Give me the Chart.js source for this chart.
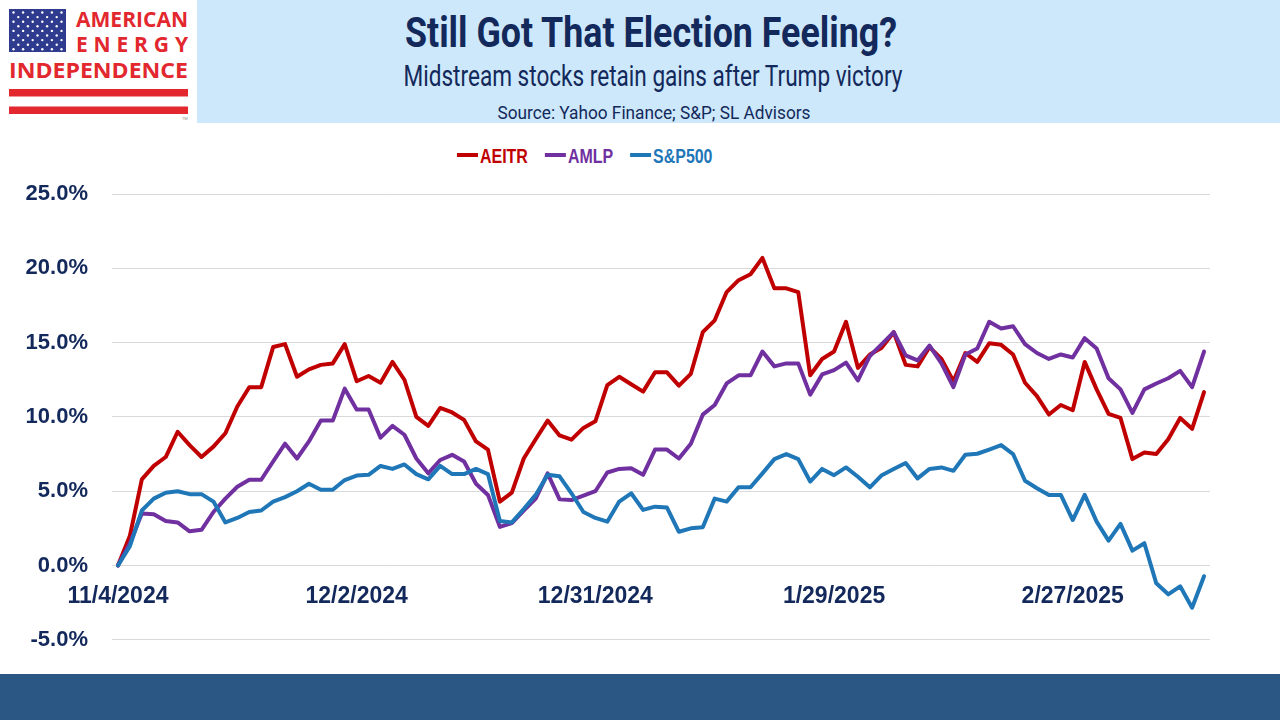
<!DOCTYPE html>
<html><head><meta charset="utf-8">
<script src="https://cdn.jsdelivr.net/npm/chart.js@4.4.1/dist/chart.umd.min.js"></script>
<style>
html,body{margin:0;padding:0;width:1280px;height:720px;overflow:hidden;background:#fff;}
#hdrbox{position:absolute;left:197px;top:0;width:1083px;height:123px;background:#CCE8FA;}
#hdr{position:absolute;left:0;top:0;}
#legend{position:absolute;left:0;top:135px;}
#chartWrap{position:absolute;left:0;top:125px;width:1280px;height:552px;}
#footer{position:absolute;left:0;top:674px;width:1280px;height:46px;background:#2A5783;}
</style></head>
<body>
<div id="hdrbox"></div>
<svg id="hdr" width="1280" height="125">
  <rect x="9" y="9" width="57" height="43" fill="#2E3B8E"/>
  <g id="stars" fill="#ffffff"></g>
  <text x="76" y="27" textLength="112" lengthAdjust="spacingAndGlyphs" font-family="Open Sans" font-weight="700" font-size="21" fill="#E2282E">AMERICAN</text>
  <text x="76" y="52" textLength="112" lengthAdjust="spacing" font-family="Open Sans" font-weight="700" font-size="21" fill="#E2282E">ENERGY</text>
  <text x="9" y="78" textLength="179" lengthAdjust="spacingAndGlyphs" font-family="Open Sans" font-weight="700" font-size="21" fill="#E2282E">INDEPENDENCE</text>
  <rect x="9" y="89" width="179" height="7.5" fill="#E2282E"/>
  <rect x="9" y="106.5" width="179" height="7.5" fill="#E2282E"/>
  <text x="182" y="120" font-family="Open Sans" font-size="4" fill="#888">TM</text>
  <text x="651" y="47" text-anchor="middle" textLength="492" lengthAdjust="spacingAndGlyphs" font-family="Roboto" font-weight="700" font-size="42" fill="#13285B">Still Got That Election Feeling?</text>
  <text x="653" y="86" text-anchor="middle" textLength="499" lengthAdjust="spacingAndGlyphs" font-family="Roboto" font-size="30" fill="#13285B">Midstream stocks retain gains after Trump victory</text>
  <text x="654" y="119" text-anchor="middle" textLength="313" lengthAdjust="spacingAndGlyphs" font-family="Roboto" font-size="19" fill="#13285B">Source: Yahoo Finance; S&amp;P; SL Advisors</text>
</svg>
<svg id="legend" width="1280" height="40"></svg>
<div id="chartWrap"><canvas id="c" width="1280" height="552"></canvas></div>
<div id="footer"></div>
<script>
// ---- data ----
const labels = [
"11/4/2024","11/5/2024","11/6/2024","11/7/2024","11/8/2024","11/11/2024","11/12/2024","11/13/2024","11/14/2024","11/15/2024",
"11/18/2024","11/19/2024","11/20/2024","11/21/2024","11/22/2024","11/25/2024","11/26/2024","11/27/2024","11/28/2024","11/29/2024",
"12/2/2024","12/3/2024","12/4/2024","12/5/2024","12/6/2024","12/9/2024","12/10/2024","12/11/2024","12/12/2024","12/13/2024",
"12/16/2024","12/17/2024","12/18/2024","12/19/2024","12/20/2024","12/23/2024","12/24/2024","12/26/2024","12/27/2024","12/30/2024",
"12/31/2024","1/1/2025","1/2/2025","1/3/2025","1/6/2025","1/7/2025","1/8/2025","1/9/2025","1/10/2025","1/13/2025",
"1/14/2025","1/15/2025","1/16/2025","1/17/2025","1/21/2025","1/22/2025","1/23/2025","1/24/2025","1/27/2025","1/28/2025",
"1/29/2025","1/30/2025","1/31/2025","2/3/2025","2/4/2025","2/5/2025","2/6/2025","2/7/2025","2/10/2025","2/11/2025",
"2/12/2025","2/13/2025","2/14/2025","2/18/2025","2/19/2025","2/20/2025","2/21/2025","2/24/2025","2/25/2025","2/26/2025",
"2/27/2025","2/28/2025","3/3/2025","3/4/2025","3/5/2025","3/6/2025","3/7/2025","3/10/2025","3/11/2025","3/12/2025",
"3/13/2025","3/14/2025"];
const shownLabels = ["11/4/2024","12/2/2024","12/31/2024","1/29/2025","2/27/2025"];
const aeitr = [
0,2.0,5.8,6.7,7.3,9.0,8.1,7.3,8.0,8.9,
10.7,12.0,12.0,14.7,14.9,12.7,13.2,13.5,13.6,14.9,
12.4,12.75,12.3,13.7,12.5,10.0,9.4,10.6,10.3,9.8,
8.35,7.8,4.3,4.9,7.2,8.5,9.75,8.75,8.47,9.26,
9.7,12.14,12.7,12.2,11.7,13.0,13.0,12.1,12.9,15.7,
16.5,18.4,19.2,19.6,20.7,18.65,18.65,18.4,12.8,13.9,
14.4,16.4,13.3,14.2,14.66,15.7,13.5,13.4,14.7,13.9,
12.4,14.3,13.7,14.95,14.85,14.2,12.3,11.4,10.16,10.8,
10.45,13.7,11.85,10.2,9.93,7.16,7.6,7.5,8.5,9.93,
9.2,11.67];
const amlp = [
0,1.5,3.5,3.45,3.0,2.9,2.3,2.4,3.6,4.5,
5.3,5.77,5.77,7.0,8.2,7.2,8.35,9.75,9.75,11.9,
10.5,10.5,8.6,9.4,8.8,7.2,6.2,7.1,7.45,7.0,
5.5,4.75,2.6,2.85,3.7,4.5,6.2,4.45,4.4,4.7,
5.0,6.26,6.5,6.55,6.1,7.8,7.8,7.2,8.2,10.15,
10.8,12.25,12.8,12.8,14.4,13.4,13.6,13.6,11.5,12.86,
13.15,13.65,12.45,14.1,14.9,15.7,14.14,13.8,14.8,13.6,
12.0,14.2,14.6,16.4,15.95,16.1,14.9,14.3,13.9,14.2,
14.0,15.3,14.6,12.6,11.85,10.27,11.85,12.25,12.6,13.1,
12.0,14.4];
const sp500 = [
0,1.3,3.7,4.5,4.9,5.0,4.8,4.8,4.3,2.9,
3.2,3.6,3.7,4.3,4.6,5.0,5.5,5.1,5.1,5.75,
6.05,6.1,6.7,6.5,6.8,6.15,5.8,6.7,6.15,6.15,
6.5,6.15,3.0,2.9,3.8,4.75,6.1,6.0,4.86,3.6,
3.2,2.95,4.3,4.86,3.74,3.96,3.9,2.27,2.5,2.57,
4.5,4.3,5.27,5.27,6.2,7.16,7.5,7.16,5.65,6.5,
6.08,6.6,5.97,5.26,6.08,6.5,6.9,5.86,6.5,6.6,
6.37,7.45,7.52,7.8,8.1,7.5,5.7,5.2,4.75,4.75,
3.06,4.75,2.95,1.67,2.8,1.0,1.5,-1.2,-1.94,-1.4,
-2.84,-0.72];
const seriesNames = ["AEITR","AMLP","S&P500"];
const seriesColors = ["#C00000","#7030A0","#1F77B8"];
const yMin = -5, yMax = 25, yStep = 5;

// ---- logo stars ----
(function(){
  const g = document.getElementById('stars');
  let s = '';
  for (let r = 0; r < 9; r++) {
    const n = r % 2 === 0 ? 6 : 5;
    for (let c = 0; c < n; c++) {
      const cx = 13.5 + c * 9.6 + (r % 2 ? 4.8 : 0);
      const cy = 12.5 + r * 4.6;
      s += '<circle cx="' + cx + '" cy="' + cy + '" r="1.2"/>';
    }
  }
  g.innerHTML = s;
})();

const textColor = '#13285B';
const seriesData = [aeitr, amlp, sp500];
const chart = new Chart(document.getElementById('c'), {
  type: 'line',
  data: {
    labels: labels,
    datasets: seriesNames.map((n, k) => ({
      label: n, data: seriesData[k], borderColor: seriesColors[k], backgroundColor: seriesColors[k],
      order: k === 0 ? 2 : (k === 1 ? 1 : 0)
    }))
  },
  options: {
    responsive: false, animation: false, devicePixelRatio: 1,
    layout: { padding: { top: 69, bottom: 14, left: 0, right: 70 } },
    plugins: { legend: { display: false }, tooltip: { enabled: false } },
    elements: {
      point: { radius: 0 },
      line: { borderWidth: 4, tension: 0, borderJoinStyle: 'round', borderCapStyle: 'round', fill: false }
    },
    scales: {
      x: {
        type: 'category', offset: true, position: { y: 0 },
        grid: { display: false }, border: { display: false },
        ticks: {
          autoSkip: false, maxRotation: 0, minRotation: 0, padding: 9, color: textColor,
          font: { family: 'Liberation Sans', weight: 'bold', size: 23 },
          callback: function(v, i) { const l = labels[i]; return shownLabels.includes(l) ? l : ''; }
        }
      },
      y: {
        min: yMin, max: yMax,
        grid: { color: '#D9D9D9', lineWidth: 1, drawTicks: false },
        border: { display: false },
        ticks: {
          stepSize: yStep, padding: 24, color: textColor,
          font: { family: 'Liberation Sans', weight: 'bold', size: 22 },
          callback: v => v.toFixed(1) + '%'
        },
        afterFit: s => { s.width = 112; }
      }
    }
  }
});

// ---- legend (from chart datasets) ----
(function(){
  const svg = document.getElementById('legend');
  const cv = document.createElement('canvas').getContext('2d');
  cv.font = 'bold 21px "Liberation Sans"';
  let x = 457;
  let out = '';
  chart.data.datasets.forEach(ds => {
    out += '<rect x="' + x + '" y="18" width="21" height="4" fill="' + ds.borderColor + '"/>';
    x += 23;
    const w = cv.measureText(ds.label).width * 0.76;
    out += '<text x="' + x + '" y="28" textLength="' + w.toFixed(1) + '" lengthAdjust="spacingAndGlyphs" font-family="Liberation Sans" font-weight="700" font-size="21" fill="' + ds.borderColor + '">' + ds.label.replace('&', '&amp;') + '</text>';
    x += w + 17;
  });
  svg.innerHTML = out;
})();
</script>
</body></html>
